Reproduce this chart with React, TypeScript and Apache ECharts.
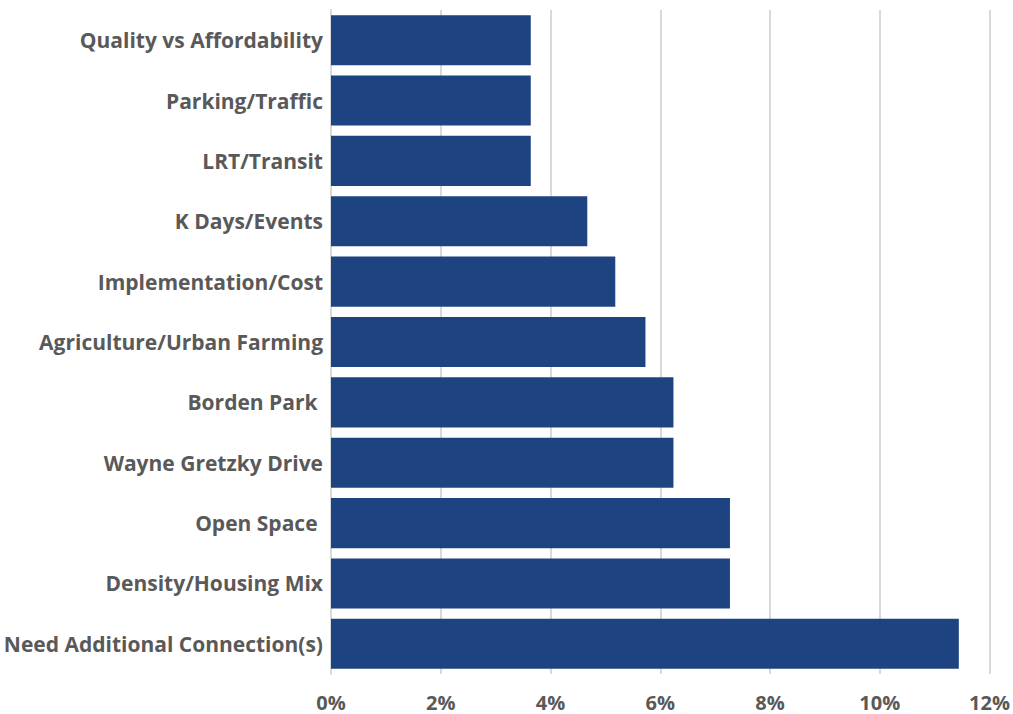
import React, { useEffect, useRef } from "react";
import * as echarts from "echarts";

const categories = [
  "Quality vs Affordability",
  "Parking/Traffic",
  "LRT/Transit",
  "K Days/Events",
  "Implementation/Cost",
  "Agriculture/Urban Farming",
  "Borden Park ",
  "Wayne Gretzky Drive",
  "Open Space ",
  "Density/Housing Mix",
  "Need Additional Connection(s)",
];
const values = [3.64, 3.64, 3.64, 4.67, 5.18, 5.73, 6.24, 6.24, 7.27, 7.27, 11.44];
const xTicks = [0, 2, 4, 6, 8, 10, 12];

export default function App() {
  const ref = useRef<HTMLDivElement>(null);
  useEffect(() => {
    if (!ref.current) return;
    const chart = echarts.init(ref.current, null, { renderer: "svg" });
    chart.setOption({
      animation: false,
      grid: { left: 331, right: 22, top: 10, bottom: 40, containLabel: false },
      xAxis: {
        type: "value",
        min: xTicks[0],
        max: xTicks[xTicks.length - 1],
        interval: 2,
        axisLine: { show: false },
        axisTick: { show: false },
        splitLine: { lineStyle: { color: "#d9d9d9", width: 2 } },
        axisLabel: {
          formatter: (v: number) => v + "%",
          color: "#595959",
          fontSize: 20,
          fontWeight: "bold",
          fontFamily: "Open Sans",
          margin: 18,
        },
      },
      yAxis: {
        type: "category",
        data: categories,
        inverse: true,
        axisLine: { show: true, lineStyle: { color: "#d9d9d9", width: 2 } },
        axisTick: { show: false },
        axisLabel: {
          color: "#595959",
          fontSize: 21,
          fontWeight: "bold",
          fontFamily: "Open Sans",
          margin: 8,
        },
      },
      series: [
        {
          type: "bar",
          data: values,
          barCategoryGap: "17%",
          itemStyle: { color: "#1d4380" },
        },
      ],
    });
    return () => chart.dispose();
  }, []);
  return <div ref={ref} style={{ width: 1013, height: 714, position: "absolute", left: 0, top: 0 }} />;
}
